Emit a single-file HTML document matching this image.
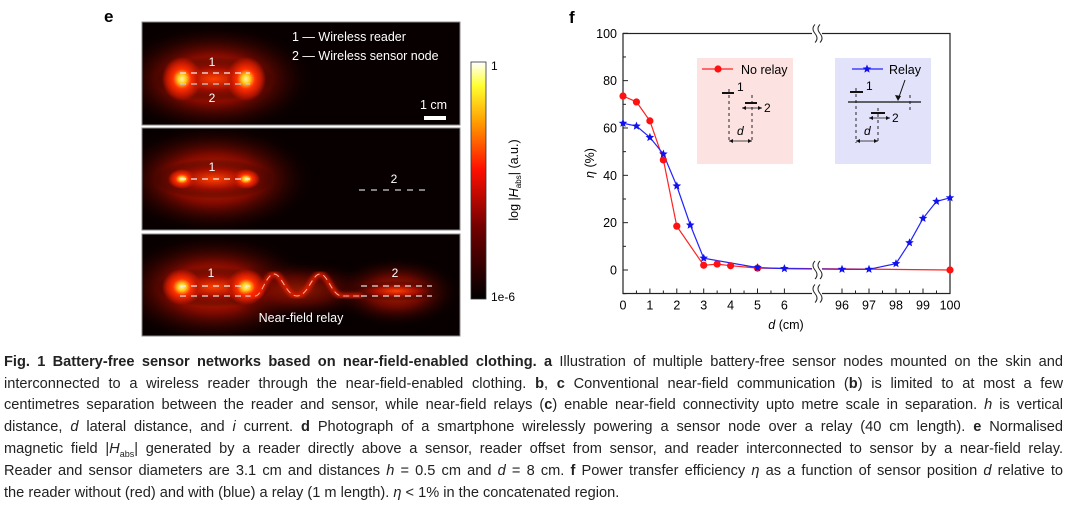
<!DOCTYPE html>
<html><head><meta charset="utf-8">
<style>
body{margin:0;background:#fff;width:1071px;height:508px;overflow:hidden;position:relative;font-family:"Liberation Sans",sans-serif;}
svg{position:absolute;left:0;top:0;}
.cap{position:absolute;left:4px;width:1059px;font-size:14.6px;color:#222;text-align:justify;text-align-last:justify;line-height:18px;white-space:nowrap;}
.cap.last{text-align-last:left;}
</style></head>
<body>
<svg width="1071" height="340">
<defs>
<radialGradient id="glow" cx="50%" cy="50%" r="50%">
<stop offset="0" stop-color="#fff8a0"/><stop offset="0.2" stop-color="#ffcc20"/><stop offset="0.45" stop-color="#ff3000"/><stop offset="0.75" stop-color="#c01800"/><stop offset="1" stop-color="#c01800" stop-opacity="0"/></radialGradient>
<radialGradient id="halo" cx="50%" cy="50%" r="50%">
<stop offset="0" stop-color="#e02800"/><stop offset="0.45" stop-color="#800a00"/><stop offset="1" stop-color="#100000" stop-opacity="0"/></radialGradient>
<radialGradient id="weak" cx="50%" cy="50%" r="50%">
<stop offset="0" stop-color="#ff4000"/><stop offset="0.5" stop-color="#a00c00"/><stop offset="1" stop-color="#000" stop-opacity="0"/></radialGradient>
<linearGradient id="cbar" x1="0" y1="1" x2="0" y2="0">
<stop offset="0" stop-color="#000"/><stop offset="0.3" stop-color="#700000"/><stop offset="0.55" stop-color="#ff1000"/><stop offset="0.75" stop-color="#ffa000"/><stop offset="0.9" stop-color="#ffff30"/><stop offset="1" stop-color="#fff"/></linearGradient>
<filter id="bl"><feGaussianBlur stdDeviation="2"/></filter>
<clipPath id="c1"><rect x="142" y="22" width="318" height="103"/></clipPath>
<clipPath id="c2"><rect x="142" y="128" width="318" height="102"/></clipPath>
<clipPath id="c3"><rect x="142" y="234" width="318" height="102"/></clipPath>
</defs>
<text x="104" y="22" font-size="17" font-weight="bold">e</text>
<g>
<rect x="142" y="22" width="318" height="103" fill="#080000"/>
<g clip-path="url(#c1)">
<ellipse cx="214" cy="79" rx="100" ry="55" fill="url(#halo)"/>
<ellipse cx="214" cy="79" rx="60" ry="22" fill="url(#weak)"/>
<ellipse cx="182" cy="79" rx="20" ry="22" fill="url(#glow)"/>
<ellipse cx="246" cy="79" rx="20" ry="22" fill="url(#glow)"/>
</g>
<rect x="142" y="22" width="318" height="103" fill="none" stroke="#888"/>
<line x1="180" y1="73" x2="250" y2="73" stroke="#eee" stroke-dasharray="6,5" stroke-width="1.3"/>
<line x1="180" y1="84" x2="250" y2="84" stroke="#ccc" stroke-dasharray="6,5" stroke-width="1.3"/>
<text x="212" y="66" fill="#fff" font-size="12" text-anchor="middle">1</text>
<text x="212" y="102" fill="#fff" font-size="12" text-anchor="middle">2</text>
<text x="292" y="41" fill="#fff" font-size="12.5">1 — Wireless reader</text>
<text x="292" y="60" fill="#fff" font-size="12.5">2 — Wireless sensor node</text>
<text x="420" y="109" fill="#fff" font-size="12.5">1 cm</text>
<rect x="424" y="116" width="22" height="4" fill="#fff"/>
</g>
<g>
<rect x="142" y="128" width="318" height="102" fill="#080000"/>
<g clip-path="url(#c2)">
<ellipse cx="214" cy="179" rx="100" ry="55" fill="url(#halo)"/>
<ellipse cx="214" cy="179" rx="60" ry="20" fill="url(#weak)"/>
<ellipse cx="182" cy="179" rx="14" ry="10" fill="url(#glow)"/>
<ellipse cx="246" cy="179" rx="14" ry="10" fill="url(#glow)"/>
</g>
<rect x="142" y="128" width="318" height="102" fill="none" stroke="#888"/>
<line x1="180" y1="179" x2="250" y2="179" stroke="#eee" stroke-dasharray="6,5" stroke-width="1.3"/>
<text x="212" y="171" fill="#fff" font-size="12" text-anchor="middle">1</text>
<text x="394" y="183" fill="#fff" font-size="12" text-anchor="middle">2</text>
<line x1="359" y1="190" x2="431" y2="190" stroke="#ccc" stroke-dasharray="6,6" stroke-width="1.3"/>
</g>
<g>
<rect x="142" y="234" width="318" height="102" fill="#080000"/>
<g clip-path="url(#c3)">
<ellipse cx="214" cy="288" rx="100" ry="55" fill="url(#halo)"/>
<ellipse cx="300" cy="290" rx="80" ry="30" fill="url(#halo)" opacity="0.6"/>
<ellipse cx="396" cy="292" rx="65" ry="35" fill="url(#halo)" opacity="0.8"/>
<ellipse cx="214" cy="287" rx="58" ry="20" fill="url(#weak)"/>
<ellipse cx="182" cy="287" rx="20" ry="18" fill="url(#glow)"/>
<ellipse cx="246" cy="287" rx="20" ry="18" fill="url(#glow)"/>
<ellipse cx="396" cy="291" rx="45" ry="10" fill="url(#weak)"/>
</g>
<rect x="142" y="234" width="318" height="102" fill="none" stroke="#888"/>
<path d="M245,296 L255,296 C262,296 266,274 274,274 C282,274 286,296 297,296 C308,296 312,274 320,274 C328,274 332,296 342,296 L362,296" fill="none" stroke="#ff2000" stroke-width="4" filter="url(#bl)"/>
<path d="M245,296 L255,296 C262,296 266,274 274,274 C282,274 286,296 297,296 C308,296 312,274 320,274 C328,274 332,296 342,296 L362,296" fill="none" stroke="#ffb0a0" stroke-width="1" stroke-dasharray="6,4"/>
<line x1="180" y1="286" x2="250" y2="286" stroke="#eee" stroke-dasharray="6,5" stroke-width="1.3"/>
<line x1="180" y1="296" x2="250" y2="296" stroke="#ddd" stroke-dasharray="6,5" stroke-width="1.3"/>
<line x1="361" y1="286" x2="432" y2="286" stroke="#ddd" stroke-dasharray="6,5" stroke-width="1.3"/>
<line x1="361" y1="296" x2="432" y2="296" stroke="#ddd" stroke-dasharray="6,5" stroke-width="1.3"/>
<text x="211" y="277" fill="#fff" font-size="12" text-anchor="middle">1</text>
<text x="395" y="277" fill="#fff" font-size="12" text-anchor="middle">2</text>
<text x="301" y="322" fill="#fff" font-size="12.5" text-anchor="middle">Near-field relay</text>
</g>
<g>
<rect x="471" y="62" width="15" height="237" fill="url(#cbar)" stroke="#333" stroke-width="0.8"/>
<text x="491" y="70" font-size="12">1</text>
<text x="491" y="301" font-size="12">1e-6</text>
<text transform="translate(518,180) rotate(-90)" font-size="12.5" text-anchor="middle">log |<tspan font-style="italic">H</tspan><tspan font-size="8" dy="3">abs</tspan><tspan dy="-3">| (a.u.)</tspan></text>
</g>
<text x="569" y="23" font-size="17" font-weight="bold">f</text>
<g id="chart"></g>
</svg>

<div class="cap" style="top:353px"><b>Fig. 1 Battery-free sensor networks based on near-field-enabled clothing. a</b> Illustration of multiple battery-free sensor nodes mounted on the skin and</div>
<div class="cap" style="top:375px">interconnected to a wireless reader through the near-field-enabled clothing. <b>b</b>, <b>c</b> Conventional near-field communication (<b>b</b>) is limited to at most a few</div>
<div class="cap" style="top:396px">centimetres separation between the reader and sensor, while near-field relays (<b>c</b>) enable near-field connectivity upto metre scale in separation. <i>h</i> is vertical</div>
<div class="cap" style="top:418px">distance, <i>d</i> lateral distance, and <i>i</i> current. <b>d</b> Photograph of a smartphone wirelessly powering a sensor node over a relay (40 cm length). <b>e</b> Normalised</div>
<div class="cap" style="top:440px">magnetic field |<i>H</i><sub style="font-size:9px">abs</sub>| generated by a reader directly above a sensor, reader offset from sensor, and reader interconnected to sensor by a near-field relay.</div>
<div class="cap" style="top:462px">Reader and sensor diameters are 3.1 cm and distances <i>h</i> = 0.5 cm and <i>d</i> = 8 cm. <b>f</b> Power transfer efficiency <i>η</i> as a function of sensor position <i>d</i> relative to</div>
<div class="cap last" style="top:484px">the reader without (red) and with (blue) a relay (1 m length). <i>η</i> &lt; 1% in the concatenated region.</div>

<script>
const xTicks = [0,1,2,3,4,5,6,96,97,98,99,100];
const yTicks = [0,20,40,60,80,100];
const redD = [0,0.5,1,1.5,2,3,3.5,4,5,100];
const redEta = [73.5,71,63,46.5,18.5,2,2.5,1.8,0.8,0];
const blueD = [0,0.5,1,1.5,2,2.5,3,5,6,96,97,98,98.5,99,99.5,100];
const blueEta = [62,60.8,56,49,35.5,19,5,1,0.6,0.3,0.3,2.7,11.5,21.8,29,30.5];

const NS='http://www.w3.org/2000/svg';
const g=document.getElementById('chart');
const L=623,R=950,T=33.5,B=293.5;
function sx(d){return d<50 ? L+26.9*d : 842+27*(d-96);}
function sy(v){return 270-v*2.367;}
function mk(tag,attrs,parent){const e=document.createElementNS(NS,tag);for(const k in attrs)e.setAttribute(k,attrs[k]);(parent||g).appendChild(e);return e;}

const frame=mk('rect',{x:L,y:T,width:R-L,height:B-T,fill:'none',stroke:'#222','stroke-width':1.2});


for(const v of yTicks){
  const t=mk('line',{x1:L,x2:L+5,y1:sy(v),y2:sy(v),stroke:'#222'});
  
  
  const m=mk('line',{x1:L,x2:L+3,y1:sy(v-10),y2:sy(v-10),stroke:'#222'});
  
  
  const lb=mk('text',{x:L-6,y:sy(v)+4.5,'font-size':12.5,'text-anchor':'end'});
  lb.textContent=v;
  
  
}
for(const d of xTicks){
  const t=mk('line',{x1:sx(d),x2:sx(d),y1:B,y2:B-5,stroke:'#222'});
  
  
  if(d<6 || (d>=96&&d<100)){const m=mk('line',{x1:sx(d+0.5),x2:sx(d+0.5),y1:B,y2:B-3,stroke:'#222'});
  
  }
  const lb=mk('text',{x:sx(d),y:B+16,'font-size':12.5,'text-anchor':'middle'});
  lb.textContent=d;
  
  
}
const pb=mk('rect',{x:697,y:58,width:96,height:106,fill:'#fde2e2'});


const bb=mk('rect',{x:835,y:58,width:96,height:106,fill:'#e2e2fb'});



function star(cx,cy,r,color,name){
  let p='';for(let i=0;i<10;i++){const a=-Math.PI/2+i*Math.PI/5;const rr=i%2?r*0.45:r;p+=(i?'L':'M')+(cx+rr*Math.cos(a)).toFixed(1)+','+(cy+rr*Math.sin(a)).toFixed(1);}
  const s=mk('path',{d:p+'Z',fill:color});
  
  
}
function pts(ds,vs){return ds.map((d,i)=>sx(d).toFixed(1)+','+sy(vs[i]).toFixed(1)).join(' ');}
const rl=mk('polyline',{points:pts(redD,redEta),fill:'none',stroke:'#f22','stroke-width':1.2});


const bl=mk('polyline',{points:pts(blueD,blueEta),fill:'none',stroke:'#22f','stroke-width':1.2});


redD.forEach((d,i)=>{const c=mk('circle',{cx:sx(d),cy:sy(redEta[i]),r:3.6,fill:'#f11'});
  
  });
blueD.forEach((d,i)=>star(sx(d),sy(blueEta[i]),4.5,'#11e','relay-point'));

for(const [by,name] of [[T,'top-break'],[sy(0),'series-break'],[B,'bottom-break']]){
  mk('rect',{x:812,y:by-9,width:10,height:18,fill:'#fff'});
  const b1=mk('path',{d:`M815,${by-9} q-4,4 0,9 q4,5 0,9`,fill:'none',stroke:'#222'});
  
  
  mk('path',{d:`M820,${by-9} q-4,4 0,9 q4,5 0,9`,fill:'none',stroke:'#222'});
}

mk('line',{x1:702,x2:733,y1:69,y2:69,stroke:'#f22','stroke-width':1.2});
mk('circle',{cx:718,cy:69,r:3.6,fill:'#f11'});
const t1=mk('text',{x:741,y:74,'font-size':12.5});t1.textContent='No relay';


mk('line',{x1:852,x2:883,y1:69,y2:69,stroke:'#22f','stroke-width':1.2});
star(867,69,4.5,'#11e','legend-relay-marker');
const t2=mk('text',{x:889,y:74,'font-size':12.5});t2.textContent='Relay';


function ln(x1,y1,x2,y2,w,dash){mk('line',{x1,y1,x2,y2,stroke:'#111','stroke-width':w||1,'stroke-dasharray':dash||'none'});}
function tx(x,y,s,it){const e=mk('text',{x,y,'font-size':12,'font-style':it?'italic':'normal'});e.textContent=s;}
function darrow(x1,x2,y){ln(x1,y,x2,y,0.8);mk('path',{d:`M${x1},${y} l4,-2 v4z M${x2},${y} l-4,-2 v4z`,fill:'#111'});}
ln(722,93,734,93,2);ln(729,89,729,143,0.9,'3,3');tx(737,91,'1');
ln(745,103,757,103,2);ln(752,95,752,143,0.9,'3,3');darrow(742,762,108);tx(764,112,'2');
darrow(729,752,141);tx(737,135,'d',true);
ln(850,92,863,92,2);ln(848,102,921,102,1.2);ln(856,88,856,143,0.9,'3,3');ln(910,95,910,112,0.9,'3,3');tx(866,90,'1');
ln(905,80,899,97,1);mk('path',{d:'M898,101 l-3,-6 l6,1z',fill:'#111'});
ln(871,113,885,113,2);ln(878,108,878,143,0.9,'3,3');darrow(869,890,118);tx(892,122,'2');
darrow(856,878,141);tx(864,135,'d',true);

const xt=mk('text',{x:786,y:329,'font-size':12.5,'text-anchor':'middle'});
xt.innerHTML='<tspan font-style="italic">d</tspan> (cm)';


const yt=mk('text',{transform:'translate(594,163) rotate(-90)','font-size':12.5,'text-anchor':'middle'});
yt.innerHTML='<tspan font-style="italic">η</tspan> (%)';


</script>
</body></html>
